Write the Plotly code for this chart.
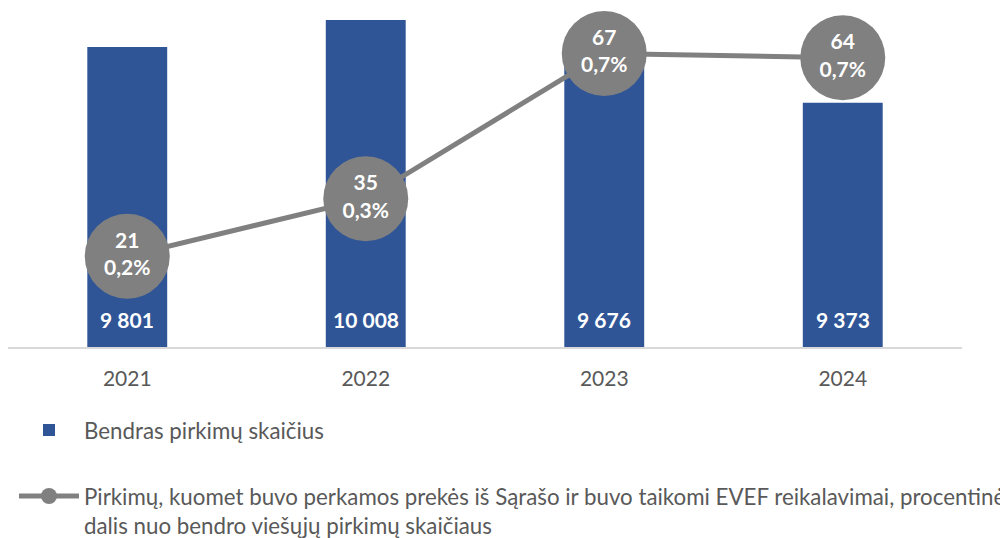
"""
Viešieji pirkimai: bendras skaičius (stulpeliai) ir EVEF pirkimų dalis (linija).
"""
import plotly.graph_objects as go

years = ['2021', '2022', '2023', '2024']
total_purchases = [9801, 10008, 9676, 9373]
evef_purchases = [21, 35, 67, 64]

bar_name = 'Bendras pirkimų skaičius'
line_name = ('Pirkimų, kuomet buvo perkamos prekės iš Sąrašo ir buvo taikomi EVEF reikalavimai, procentinė'
             '<br>dalis nuo bendro viešųjų pirkimų skaičiaus')

# procentinė dalis nuo bendro skaičiaus
evef_share = [c / t * 100 for c, t in zip(evef_purchases, total_purchases)]

BLUE = '#2F5597'
GREY = '#808080'
TEXT = '#595959'
FONT = 'Lato, Carlito, Calibri, sans-serif'

# puslapio <body> turi 8 px paraštę, todėl viskas pastumta per 8 px
W, H = 1008, 538
Y_MIN = 7500

fig = go.Figure()
fig.add_trace(go.Bar(
    x=years, y=total_purchases, name=bar_name,
    marker=dict(color=BLUE, line=dict(width=0)),
    legendgroup='a',
    hoverinfo='skip',
))
fig.add_trace(go.Scatter(
    x=years, y=evef_share, yaxis='y2', name=line_name,
    mode='lines+markers+text',
    line=dict(color=GREY, width=5),
    marker=dict(color=GREY, size=85, line=dict(width=0)),
    customdata=evef_purchases,
    texttemplate='<b>%{customdata}</b><br><b>%{y:.1f}%</b>',
    textposition='middle center',
    textfont=dict(color='white', size=21, family=FONT),
    cliponaxis=False,
    legendgroup='b',
    hoverinfo='skip',
))

# skaičiai stulpelių apačioje (x – kategorijos eilės numeris)
for i, v in enumerate(total_purchases):
    fig.add_annotation(
        x=i, y=Y_MIN, yanchor='bottom', yshift=13, showarrow=False,
        text='<b>' + f'{v:,}'.replace(',', ' ') + '</b>',
        font=dict(color='white', size=21, family=FONT),
    )

fig.update_layout(
    width=W, height=H,
    template='plotly_white',
    separators=', ',
    margin=dict(l=0, r=0, t=0, b=0),
    bargap=0.665,
    plot_bgcolor='white', paper_bgcolor='white',
    font=dict(family=FONT, color=TEXT, size=21),
    xaxis=dict(
        type='category', showgrid=False, zeroline=False,
        domain=[0, 954 / W],
        range=[-0.5, len(years) - 0.5],
        showline=True, linecolor='#D9D9D9', linewidth=1.5,
        ticks='', ticklabelstandoff=12,
        tickfont=dict(size=21, color=TEXT, family=FONT),
    ),
    yaxis=dict(range=[Y_MIN, 10100], visible=False, domain=[(H - 341.5) / H, 1]),
    yaxis2=dict(range=[0, 0.8], overlaying='y', visible=False),
    showlegend=True,
    legend=dict(
        orientation='v', x=6 / W, xanchor='left', y=(H - 404) / H, yanchor='top',
        traceorder='grouped', tracegroupgap=34, valign='top',
        font=dict(size=22.3, color=TEXT, family=FONT),
        bgcolor='rgba(0,0,0,0)', itemwidth=60,
    ),
)

fig.write_html('out.html')
